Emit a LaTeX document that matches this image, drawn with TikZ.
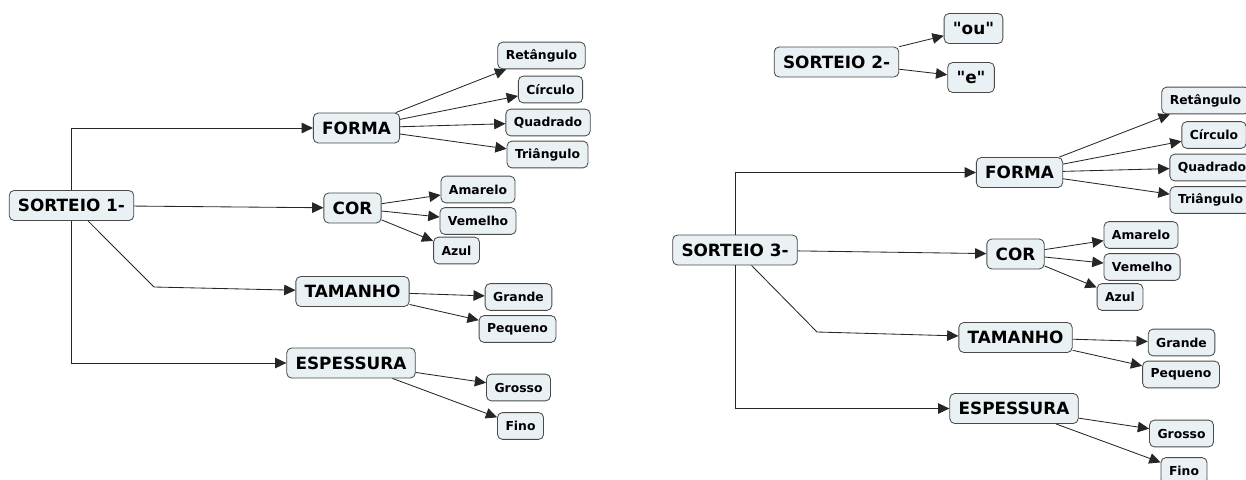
\documentclass[tikz,border=0pt]{standalone}
\usepackage{fontspec}
\setmainfont{DejaVu Sans}[Ligatures=TeXOff]
\usetikzlibrary{arrows.meta}
\definecolor{boxfill}{HTML}{EAF1F5}
\definecolor{boxline}{HTML}{4A4A4A}

\begin{document}
\begin{tikzpicture}[x=0.025cm, y=-0.025cm]
        \tikzstyle{topic} = [rectangle, draw=boxline, fill=boxfill, rounded corners=3.5pt, inner xsep=0.22cm, minimum height=0.75cm, line width=0.6pt, font=\fontsize{12}{14}\selectfont\bfseries]
        \tikzstyle{leaf} = [topic, inner xsep=0.2cm, minimum height=0.67cm, font=\fontsize{8.8}{10}\selectfont\bfseries]
        \tikzstyle{arrow} = [line width=0.6pt, draw=black!85, -{Triangle[length=8pt,width=7.5pt]}]

        \useasboundingbox (0,0) rectangle (1246,479);

        % Sorteio 1
        \node [topic] (s1)     at (71.5,205.5) {SORTEIO 1-};
        \node [topic] (forma1) at (356.5,128)  {FORMA};
        \node [topic] (cor1)   at (352.5,208)  {COR};
        \node [topic] (tam1)   at (352.5,291.5) {TAMANHO};
        \node [topic] (esp1)   at (351,363)    {ESPESSURA};

        \node [leaf] (ret1)  at (541.5,55.5) {Retângulo};
        \node [leaf] (circ1) at (550.5,89.5) {Círculo};
        \node [leaf] (quad1) at (548,122.5)  {Quadrado};
        \node [leaf] (tri1)  at (547.5,154.5) {Triângulo};
        \node [leaf] (ama1)  at (478,189.5)  {Amarelo};
        \node [leaf] (verm1) at (478,221)    {Vemelho};
        \node [leaf] (azul1) at (456.5,250.5) {Azul};
        \node [leaf] (gra1)  at (518.5,297)  {Grande};
        \node [leaf] (peq1)  at (517.5,329)  {Pequeno};
        \node [leaf] (gros1) at (518.5,387.5) {Grosso};
        \node [leaf] (fino1) at (520.5,426)  {Fino};
        \coordinate (k1) at (154,287);

        \draw [arrow] (s1.north) |- (forma1.west);
        \draw [arrow] (s1) -- (cor1);
        \draw [arrow] (s1.-43) -- (k1) -- (tam1);
        \draw [arrow] (s1.south) |- (esp1.west);
        \foreach \t in {ret1, circ1, quad1, tri1}
            \draw [arrow] (forma1) -- (\t);
        \foreach \t in {ama1, verm1, azul1}
            \draw [arrow] (cor1) -- (\t);
        \foreach \t in {gra1, peq1}
            \draw [arrow] (tam1) -- (\t);
        \foreach \t in {gros1, fino1}
            \draw [arrow] (esp1) -- (\t);

        % Sorteio 2
        \node [topic] (s2)  at (836.5,62) {SORTEIO 2-};
        \node [topic] (ou2) at (973.5,28.5) {"ou"};
        \node [topic] (e2)  at (971,77.5) {"e"};
        \draw [arrow] (s2) -- (ou2);
        \draw [arrow] (s2) -- (e2);

        % Sorteio 3
        \node [topic] (s3)     at (735,250)     {SORTEIO 3-};
        \node [topic] (forma3) at (1019.5,172.5) {FORMA};
        \node [topic] (cor3)   at (1015.5,254)  {COR};
        \node [topic] (tam3)   at (1015.5,337.5) {TAMANHO};
        \node [topic] (esp3)   at (1014,408.5)  {ESPESSURA};

        \node [leaf] (ret3)  at (1205.5,100.5) {Retângulo};
        \node [leaf] (circ3) at (1214,135)   {Círculo};
        \node [leaf] (quad3) at (1212,167.5) {Quadrado};
        \node [leaf] (tri3)  at (1210.5,200) {Triângulo};
        \node [leaf] (ama3)  at (1141,235)   {Amarelo};
        \node [leaf] (verm3) at (1142,267)   {Vemelho};
        \node [leaf] (azul3) at (1120,297)   {Azul};
        \node [leaf] (gra3)  at (1181.5,342.5) {Grande};
        \node [leaf] (peq3)  at (1181,374.5) {Pequeno};
        \node [leaf] (gros3) at (1181.5,433.5) {Grosso};
        \node [leaf] (fino3) at (1184,471)   {Fino};
        \coordinate (k3) at (817,332);

        \draw [arrow] (s3.north) |- (forma3.west);
        \draw [arrow] (s3) -- (cor3);
        \draw [arrow] (s3.-43) -- (k3) -- (tam3);
        \draw [arrow] (s3.south) |- (esp3.west);
        \foreach \t in {ret3, circ3, quad3, tri3}
            \draw [arrow] (forma3) -- (\t);
        \foreach \t in {ama3, verm3, azul3}
            \draw [arrow] (cor3) -- (\t);
        \foreach \t in {gra3, peq3}
            \draw [arrow] (tam3) -- (\t);
        \foreach \t in {gros3, fino3}
            \draw [arrow] (esp3) -- (\t);
\end{tikzpicture}
\end{document}
